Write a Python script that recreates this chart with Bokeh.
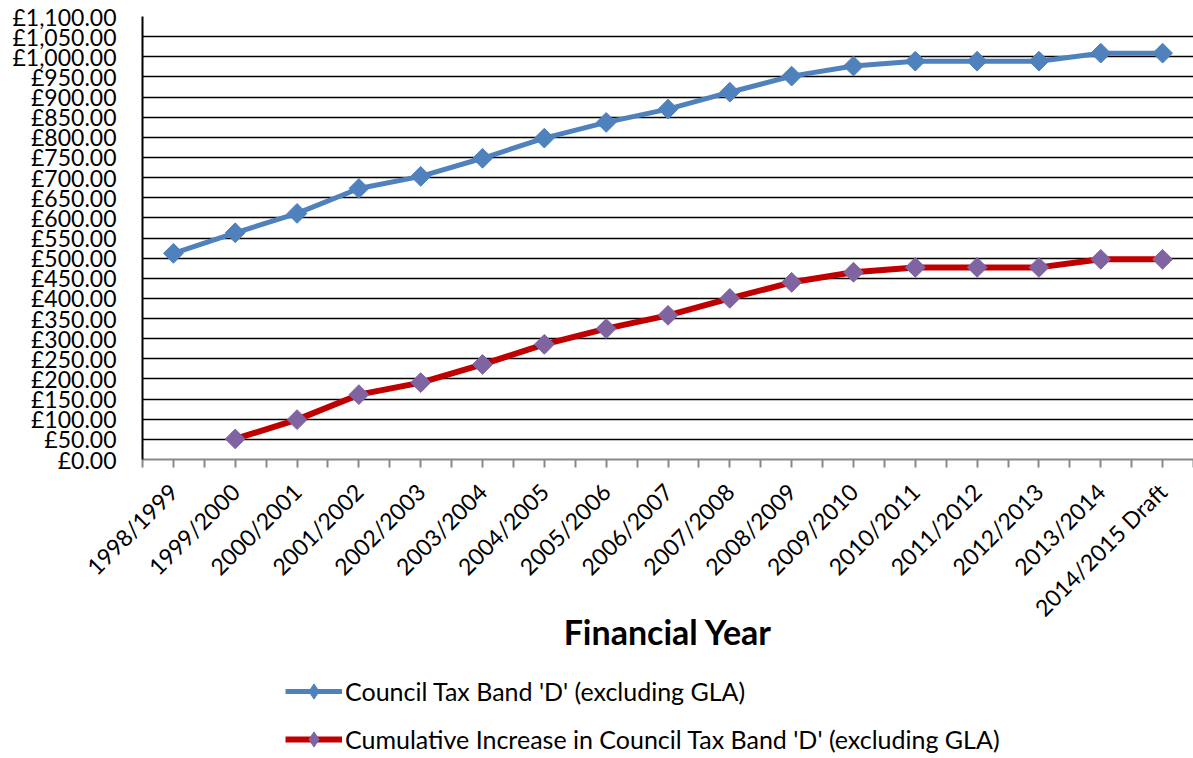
import math
from bokeh.plotting import figure
from bokeh.layouts import column
from bokeh.models import FixedTicker, Legend, LegendItem, Range1d
from bokeh.embed import file_html
from bokeh.resources import INLINE

years = ["1998/1999", "1999/2000", "2000/2001", "2001/2002", "2002/2003",
         "2003/2004", "2004/2005", "2005/2006", "2006/2007", "2007/2008",
         "2008/2009", "2009/2010", "2010/2011", "2011/2012", "2012/2013",
         "2013/2014", "2014/2015 Draft"]

band_d = [512, 563, 611, 673, 703, 748, 798, 837, 870, 912, 952, 977,
          989, 989, 989, 1009, 1009]

cum_years = years[1:]
cumulative = [51, 99, 161, 191, 236, 286, 325, 358, 400, 440, 465, 477,
              477, 477, 497, 497]

y_ticks = list(range(0, 1101, 50))
y_tick_labels = ["£0.00", "£50.00", "£100.00", "£150.00", "£200.00", "£250.00",
                 "£300.00", "£350.00", "£400.00", "£450.00", "£500.00",
                 "£550.00", "£600.00", "£650.00", "£700.00", "£750.00",
                 "£800.00", "£850.00", "£900.00", "£950.00", "£1,000.00",
                 "£1,050.00", "£1,100.00"]

label_band = "Council Tax Band 'D' (excluding GLA)"
label_cum = "Cumulative Increase in Council Tax Band 'D' (excluding GLA)"
x_title = "Financial Year"

FONT = "Lato"
BLUE = "#4F81BD"
RED = "#C00000"
PURPLE = "#8064A2"

xi = list(range(len(years)))
xi_cum = [years.index(y) for y in cum_years]

p = figure(frame_width=1051, frame_height=443, output_backend="svg", toolbar_location=None,
           x_range=Range1d(-0.5, len(years) - 0.5), y_range=Range1d(0, 1100),
           min_border_left=142, min_border_top=16, min_border_right=0,
           min_border_bottom=200)

p.background_fill_color = "white"
p.border_fill_color = "white"
p.outline_line_color = None

# grid
p.xgrid.visible = False
p.ygrid.ticker = FixedTicker(ticks=y_ticks)
p.ygrid.grid_line_color = "black"
p.ygrid.grid_line_width = 1.5

# y axis
p.yaxis.ticker = FixedTicker(ticks=y_ticks)
p.yaxis.major_label_overrides = {t: l for t, l in zip(y_ticks, y_tick_labels)}
p.yaxis.major_tick_line_color = None
p.yaxis.minor_tick_line_color = None
p.yaxis.major_tick_out = 0
p.yaxis.major_tick_in = 0
p.yaxis.axis_line_color = "black"
p.yaxis.axis_line_width = 2
p.yaxis.major_label_standoff = 26
p.yaxis.major_label_text_font = FONT
p.yaxis.major_label_text_font_size = "23px"
p.yaxis.major_label_text_color = "black"

# x axis
p.xaxis.ticker = FixedTicker(ticks=xi, minor_ticks=[i - 0.5 for i in range(len(years) + 1)])
p.xaxis.major_label_overrides = {i: y for i, y in enumerate(years)}
p.xaxis.major_label_orientation = math.pi / 4
p.xaxis.major_label_text_font = FONT
p.xaxis.major_label_text_font_size = "23px"
p.xaxis.major_label_text_color = "black"
p.xaxis.major_label_standoff = 20
p.xaxis.axis_line_color = "#888888"
p.xaxis.axis_line_width = 2
p.xaxis.major_tick_line_color = "#888888"
p.xaxis.minor_tick_line_color = "#888888"
p.xaxis.major_tick_line_width = 2
p.xaxis.minor_tick_line_width = 2
p.xaxis.major_tick_in = 0
p.xaxis.major_tick_out = 8
p.xaxis.minor_tick_in = 0
p.xaxis.minor_tick_out = 8
p.xaxis.axis_label = x_title
p.xaxis.axis_label_text_font = FONT
p.xaxis.axis_label_text_font_size = "34px"
p.xaxis.axis_label_text_font_style = "bold"
p.xaxis.axis_label_text_color = "black"
p.xaxis.axis_label_standoff = -23

# series
p.line(xi, band_d, line_color=BLUE, line_width=5)
p.scatter(xi, band_d, marker="square", angle=math.pi / 4, size=14,
          fill_color=BLUE, line_color=BLUE)
p.line(xi_cum, cumulative, line_color=RED, line_width=6)
p.scatter(xi_cum, cumulative, marker="square", angle=math.pi / 4, size=14,
          fill_color=PURPLE, line_color=PURPLE)

# legend strip: separate figure below the chart. Its renderers use the same
# series but its y range lies above the data, so only the legend samples show.
LEG_H = 758 - (16 + 443 + 200)
q = figure(width=1193, height=LEG_H, output_backend="svg", toolbar_location=None,
           x_axis_location=None, y_axis_location=None,
           x_range=Range1d(-0.5, len(years) - 0.5), y_range=Range1d(5000, 5100),
           min_border=0, min_border_left=0, min_border_right=0,
           min_border_top=0, min_border_bottom=0)
q.outline_line_color = None
q.xgrid.visible = False
q.ygrid.visible = False
q.background_fill_color = "white"
q.border_fill_color = "white"

ql1 = q.line(xi, band_d, line_color=BLUE, line_width=5)
qd1 = q.scatter(xi, band_d, marker="diamond", size=18, fill_color=BLUE, line_color=BLUE)
ql2 = q.line(xi_cum, cumulative, line_color=RED, line_width=6)
qd2 = q.scatter(xi_cum, cumulative, marker="diamond", size=18, fill_color=PURPLE, line_color=PURPLE)

legend = Legend(items=[LegendItem(label=label_band, renderers=[ql1, qd1]),
                       LegendItem(label=label_cum, renderers=[ql2, qd2])],
                location=(143, 0), orientation="vertical",
                border_line_color=None, background_fill_alpha=0,
                padding=0, margin=0, spacing=10,
                glyph_width=57, glyph_height=38, label_height=24,
                label_standoff=3,
                label_text_font=FONT, label_text_font_size="25px",
                label_text_color="black")
q.add_layout(legend, "center")

open("out.html", "w").write(file_html(column(p, q, spacing=0), INLINE))
